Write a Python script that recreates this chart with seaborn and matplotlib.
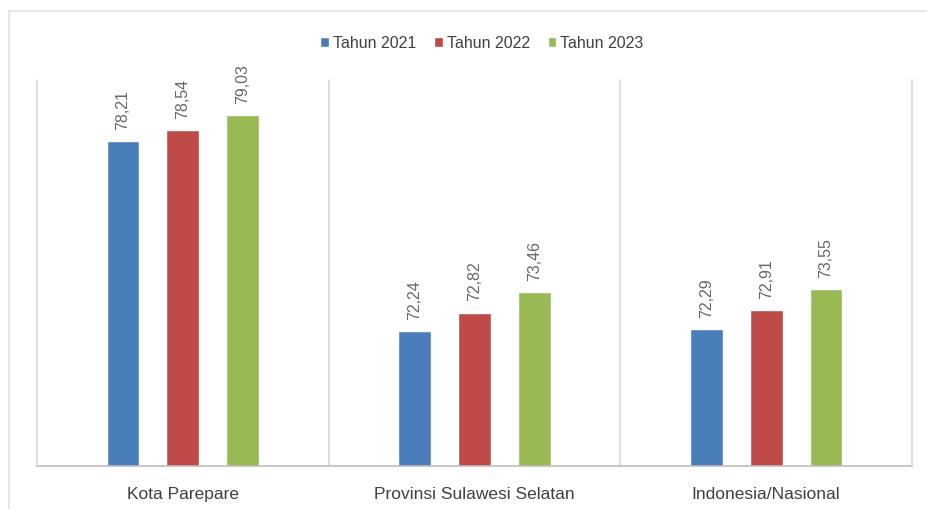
import matplotlib
matplotlib.use("Agg")
import matplotlib.pyplot as plt
import seaborn as sns
import pandas as pd
from matplotlib.patches import Rectangle

categories = ["Kota Parepare", "Provinsi Sulawesi Selatan", "Indonesia/Nasional"]
series = ["Tahun 2021", "Tahun 2022", "Tahun 2023"]
v2021 = [78.21, 72.24, 72.29]
v2022 = [78.54, 72.82, 72.91]
v2023 = [79.03, 73.46, 73.55]
colors = ["#4A7EBB", "#BE4B48", "#98B954"]

rows = []
for s, vals in zip(series, [v2021, v2022, v2023]):
    for c, v in zip(categories, vals):
        rows.append({"Wilayah": c, "Tahun": s, "Nilai": v})
df = pd.DataFrame(rows)

sns.set_theme(style="white")
plt.rcParams["font.family"] = ["Liberation Sans", "DejaVu Sans"]

fig = plt.figure(figsize=(9.28, 5.09), dpi=100)
ax = fig.add_axes([37/928, 43/509, (912-37)/928, (466-84)/509])

sns.barplot(data=df, x="Wilayah", y="Nilai", hue="Tahun", order=categories,
            hue_order=series, palette=colors, width=0.615, gap=0.45,
            ax=ax, saturation=1, legend=True)

ax.set_ylim(68, 80)
ax.set_xlim(-0.5, 2.5)
for xv in [-0.5, 0.5, 1.5, 2.5]:
    ax.axvline(xv, ymin=0, ymax=1.01, color="#D9D9D9", lw=1.2, clip_on=False, zorder=0)

for container in ax.containers:
    labels = [f"{b.get_height():.2f}".replace(".", ",") for b in container]
    ax.bar_label(container, labels=labels, rotation=90, padding=8,
                 fontsize=11.5, color="#666666")

for sp in ["top", "left", "right"]:
    ax.spines[sp].set_visible(False)
ax.spines["bottom"].set_color("#BFBFBF")
ax.spines["bottom"].set_linewidth(1.2)
ax.set_yticks([])
ax.set_xlabel("")
ax.set_ylabel("")
ax.tick_params(axis="x", length=0, pad=15, labelsize=12.5, labelcolor="#404040")

handles, labs = ax.get_legend_handles_labels()
leg = ax.legend(handles, labs, loc="center", bbox_to_anchor=(482/928, 1 - 43/509),
                bbox_transform=fig.transFigure, ncol=3, frameon=False,
                fontsize=11.5, handlelength=0.55, handleheight=0.55,
                handletextpad=0.25, columnspacing=1.1, labelcolor="#404040")

fig.patches.append(Rectangle((9/928, -0.1), 1.2, 1 - 11/509 + 0.1,
                             transform=fig.transFigure, fill=False,
                             edgecolor="#E3E3E3", lw=1.2, zorder=0))

fig.savefig("out.png", dpi=100, facecolor="white")
